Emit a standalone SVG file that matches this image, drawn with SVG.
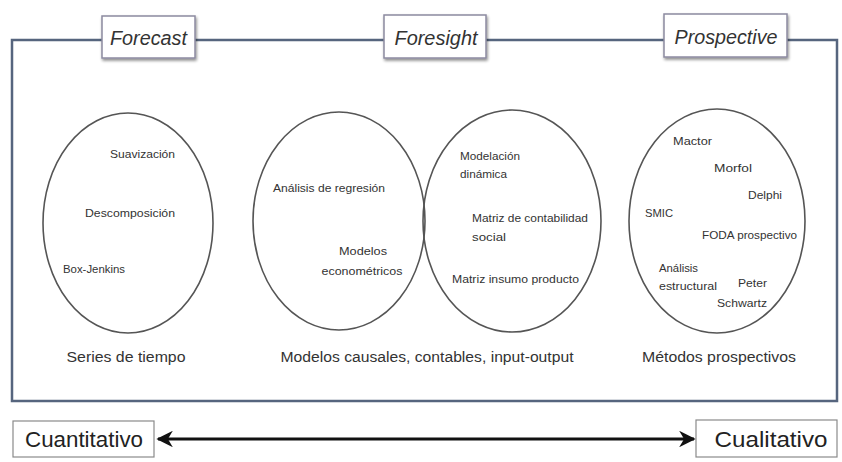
<svg xmlns="http://www.w3.org/2000/svg" width="842" height="462" viewBox="0 0 842 462">
<defs>
<filter id="sh" x="-20%" y="-20%" width="150%" height="160%">
<feGaussianBlur in="SourceAlpha" stdDeviation="1.5"/>
<feOffset dx="1" dy="2" result="b"/>
<feComponentTransfer><feFuncA type="linear" slope="0.45"/></feComponentTransfer>
<feMerge><feMergeNode/><feMergeNode in="SourceGraphic"/></feMerge>
</filter>
<marker id="ah" viewBox="0 0 10 10" refX="9" refY="5" markerWidth="5.5" markerHeight="5.5" orient="auto-start-reverse" markerUnits="strokeWidth">
<path d="M0,0 L10,5 L0,10 L3,5 Z" fill="#111"/>
</marker>
</defs>
<style>
.frame{fill:none;stroke:#56657e;stroke-width:2.5}
.tab{fill:#fff;stroke:#8c8aa0;stroke-width:1.5}
.tabt{font-family:"Liberation Sans",Arial,sans-serif;font-style:italic;font-size:20px;fill:#333;text-anchor:middle}
.ell{fill:none;stroke:#555;stroke-width:1.6}
.t{font-family:"Liberation Sans",Arial,sans-serif;font-size:11px;fill:#333}
.lab{font-family:"Liberation Sans",Arial,sans-serif;font-size:14px;fill:#333;text-anchor:middle}
.scale{fill:#fff;stroke:#8a8a8a;stroke-width:1.2}
.scalet{font-family:"Liberation Sans",Arial,sans-serif;font-size:22px;fill:#222;text-anchor:middle}
.conn{stroke:#111;stroke-width:3;fill:none}
</style>
<rect class="frame" x="12" y="40" width="825" height="361"/>
<g id="forecast">
<rect class="tab" x="102" y="16" width="93" height="42" filter="url(#sh)"/>
<text class="tabt" x="148.5" y="45" textLength="77" lengthAdjust="spacingAndGlyphs">Forecast</text>
</g>
<g id="foresight">
<rect class="tab" x="384" y="15" width="102" height="43" filter="url(#sh)"/>
<text class="tabt" x="436" y="45" textLength="83" lengthAdjust="spacingAndGlyphs">Foresight</text>
</g>
<g id="prospective">
<rect class="tab" x="664" y="14" width="123" height="43" filter="url(#sh)"/>
<text class="tabt" x="726" y="44" textLength="103" lengthAdjust="spacingAndGlyphs">Prospective</text>
</g>
<g id="series">
<ellipse class="ell" cx="128" cy="223" rx="85" ry="110"/>
<text class="t" x="110" y="158" textLength="65" lengthAdjust="spacingAndGlyphs">Suavización</text>
<text class="t" x="85" y="217" textLength="90" lengthAdjust="spacingAndGlyphs">Descomposición</text>
<text class="t" x="63" y="273" textLength="62" lengthAdjust="spacingAndGlyphs">Box-Jenkins</text>
<text class="lab" x="126" y="362" textLength="119" lengthAdjust="spacingAndGlyphs">Series de tiempo</text>
</g>
<g id="causales">
<ellipse class="ell" cx="339" cy="221" rx="86" ry="109"/>
<text class="t" x="273" y="192" textLength="112" lengthAdjust="spacingAndGlyphs">Análisis de regresión</text>
<text class="t" x="363" y="255" text-anchor="middle" textLength="48" lengthAdjust="spacingAndGlyphs">Modelos</text>
<text class="t" x="362" y="275" text-anchor="middle" textLength="81" lengthAdjust="spacingAndGlyphs">econométricos</text>
</g>
<g id="contables">
<ellipse class="ell" cx="512" cy="221" rx="89" ry="111"/>
<text class="t" x="460" y="160" textLength="60" lengthAdjust="spacingAndGlyphs">Modelación</text>
<text class="t" x="460" y="178" textLength="47" lengthAdjust="spacingAndGlyphs">dinámica</text>
<text class="t" x="472" y="222" textLength="116" lengthAdjust="spacingAndGlyphs">Matriz de contabilidad</text>
<text class="t" x="472" y="241" textLength="34" lengthAdjust="spacingAndGlyphs">social</text>
<text class="t" x="452" y="283" textLength="127" lengthAdjust="spacingAndGlyphs">Matriz insumo producto</text>
<text class="lab" x="427" y="362" textLength="293" lengthAdjust="spacingAndGlyphs">Modelos causales, contables, input-output</text>
</g>
<g id="prospectivos">
<ellipse class="ell" cx="717" cy="221" rx="88" ry="112"/>
<text class="t" x="673" y="145" textLength="39" lengthAdjust="spacingAndGlyphs">Mactor</text>
<text class="t" x="714" y="172" textLength="38" lengthAdjust="spacingAndGlyphs">Morfol</text>
<text class="t" x="748" y="199" textLength="34" lengthAdjust="spacingAndGlyphs">Delphi</text>
<text class="t" x="645" y="217" textLength="28" lengthAdjust="spacingAndGlyphs">SMIC</text>
<text class="t" x="702" y="239" textLength="95" lengthAdjust="spacingAndGlyphs">FODA prospectivo</text>
<text class="t" x="659" y="272" textLength="39" lengthAdjust="spacingAndGlyphs">Análisis</text>
<text class="t" x="659" y="290" textLength="58" lengthAdjust="spacingAndGlyphs">estructural</text>
<text class="t" x="767" y="287" text-anchor="end" textLength="29" lengthAdjust="spacingAndGlyphs">Peter</text>
<text class="t" x="767" y="307" text-anchor="end" textLength="50" lengthAdjust="spacingAndGlyphs">Schwartz</text>
<text class="lab" x="719" y="362" textLength="154" lengthAdjust="spacingAndGlyphs">Métodos prospectivos</text>
</g>
<g id="cuantitativo">
<rect class="scale" x="13" y="421" width="141" height="36"/>
<text class="scalet" x="84" y="447" textLength="118" lengthAdjust="spacingAndGlyphs">Cuantitativo</text>
</g>
<g id="cualitativo">
<rect class="scale" x="696" y="420" width="141" height="37"/>
<text class="scalet" x="771" y="447" textLength="113" lengthAdjust="spacingAndGlyphs">Cualitativo</text>
</g>
<g id="connectors">
<line class="conn" x1="158" y1="439" x2="694" y2="439" marker-start="url(#ah)" marker-end="url(#ah)"/>
</g>
</svg>
